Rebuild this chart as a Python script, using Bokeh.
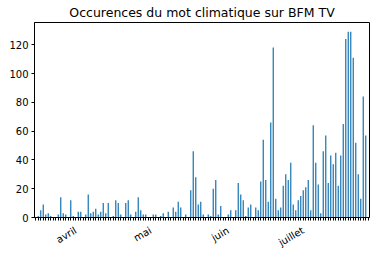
import math
import pandas as pd
from bokeh.plotting import figure
from bokeh.models import FixedTicker, Range1d, ColumnDataSource
from bokeh.embed import file_html
from bokeh.resources import INLINE

title_text = "Occurences du mot climatique sur BFM TV"
start_date = "2022-03-16"
values = [
    0, 1, 5, 9, 2, 3, 1, 0, 0, 2, 14, 3, 2, 0, 12, 1, 0, 4, 4, 0,
    2, 16, 3, 4, 6, 2, 4, 10, 3, 10, 0, 1, 12, 10, 2, 0, 10, 12, 2, 0,
    4, 14, 5, 2, 2, 0, 0, 2, 2, 0, 1, 3, 0, 4, 0, 7, 4, 11, 7, 0,
    2, 0, 19, 46, 28, 9, 11, 2, 0, 2, 1, 20, 26, 2, 8, 0, 0, 2, 5, 0,
    5, 24, 16, 12, 1, 7, 9, 0, 7, 5, 25, 54, 26, 11, 66, 118, 13, 5, 7, 22,
    30, 26, 38, 9, 5, 12, 15, 19, 21, 26, 5, 64, 38, 23, 3, 46, 57, 24, 43, 37,
    45, 22, 43, 65, 124, 129, 129, 111, 52, 30, 13, 84, 57, 0,
]
month_names = {4: "avril", 5: "mai", 6: "juin", 7: "juillet"}
y_ticks = [0, 20, 40, 60, 80, 100, 120]

dates = pd.date_range(start_date, periods=len(values), freq="D")
idx = list(range(len(values)))
source = ColumnDataSource(dict(x=idx, top=values,
                               date=[d.strftime("%Y-%m-%d") for d in dates]))

p = figure(width=375, height=255, output_backend="svg", toolbar_location=None,
           x_range=Range1d(-0.5, len(values) - 0.5),
           y_range=Range1d(0, max(values) * 1.05),
           min_border_left=34, min_border_right=6, min_border_bottom=37,
           min_border_top=4, background_fill_color="white",
           border_fill_color="white")

p.vbar(x="x", top="top", width=0.5, source=source,
       fill_color="#1f77b4", line_color=None)

p.title.text = title_text
p.title.align = "center"
p.title.text_font = "DejaVu Sans"
p.title.text_font_size = "12.5px"
p.title.text_font_style = "normal"
p.title.text_color = "black"
p.title.standoff = 5

p.xgrid.visible = False
p.ygrid.visible = False
p.outline_line_color = "black"
p.outline_line_width = 1

overrides = {i: (month_names.get(d.month, "") if d.day == 1 else "")
             for i, d in enumerate(dates)}
p.xaxis.ticker = FixedTicker(ticks=idx)
p.xaxis.major_label_overrides = overrides
p.xaxis.major_label_orientation = math.radians(30)
p.yaxis.ticker = FixedTicker(ticks=y_ticks)

for ax in p.axis:
    ax.axis_line_color = "black"
    ax.major_tick_line_color = "black"
    ax.minor_tick_line_color = None
    ax.major_tick_in = 0
    ax.major_tick_out = 3
    ax.major_label_text_font = "DejaVu Sans"
    ax.major_label_text_font_size = "10px"
    ax.major_label_text_color = "black"
    ax.major_label_standoff = 3

p.xaxis.major_label_standoff = 9

open("out.html", "w").write(file_html(p, INLINE))
